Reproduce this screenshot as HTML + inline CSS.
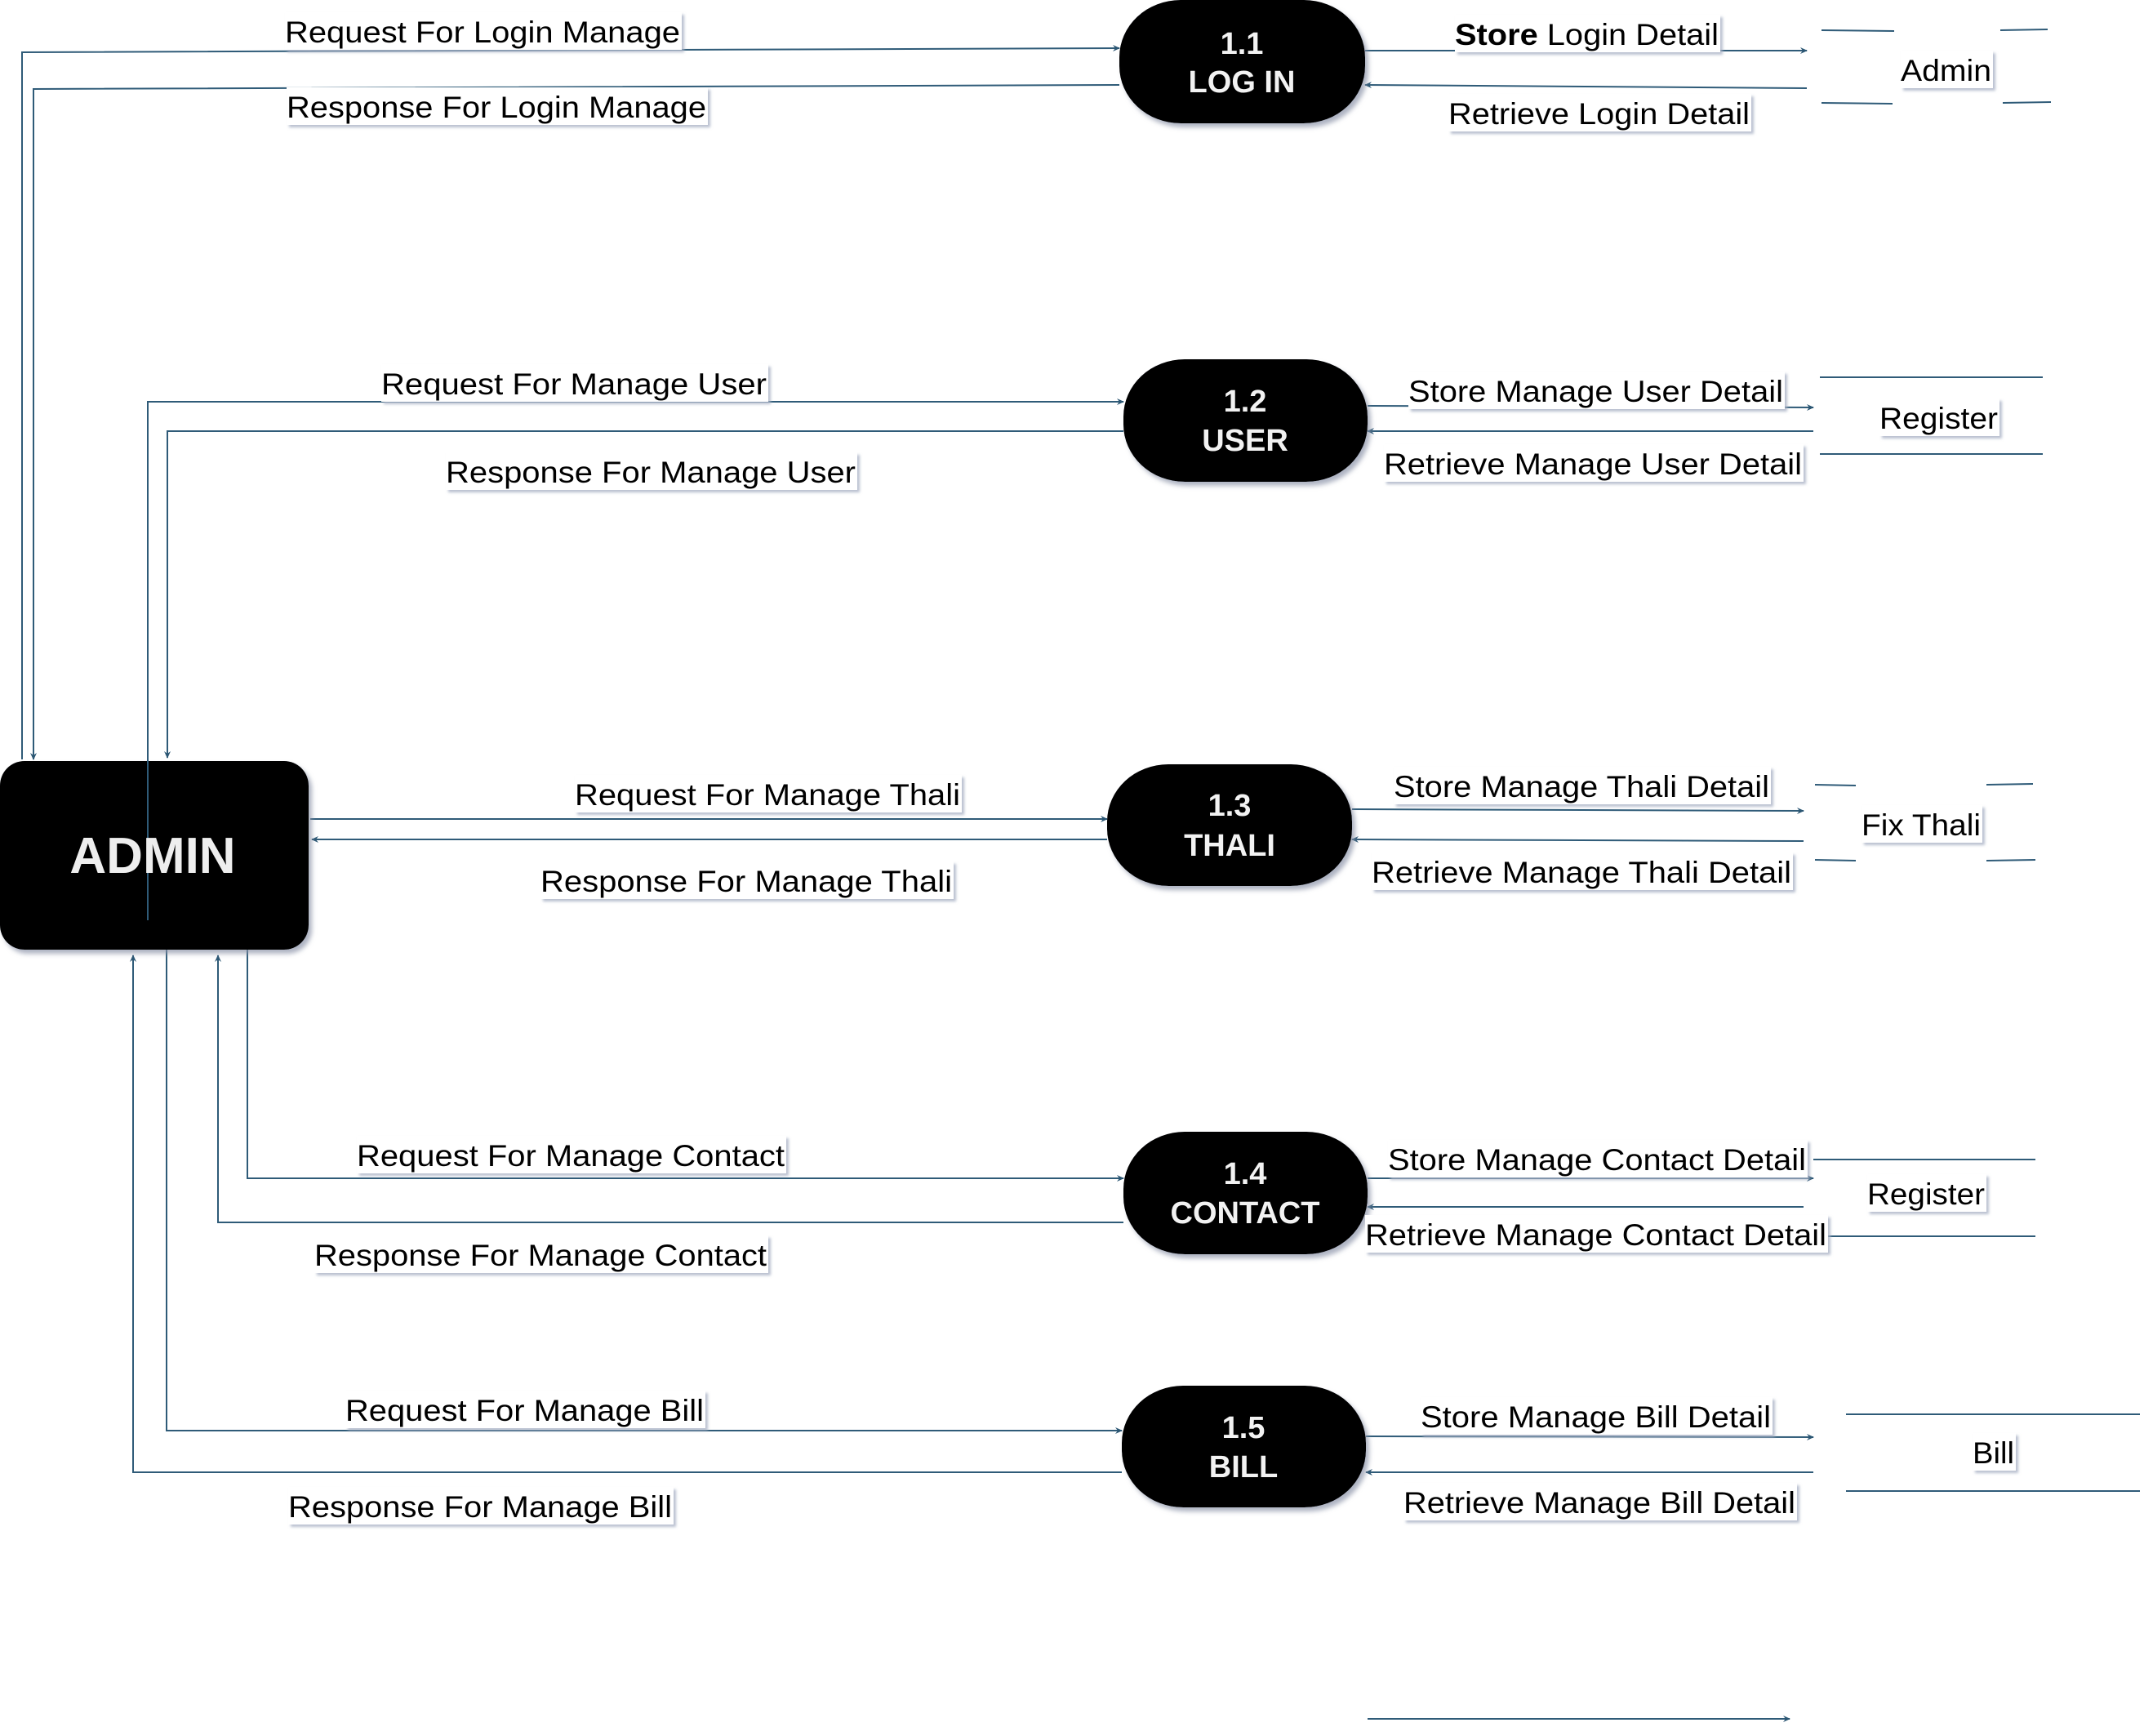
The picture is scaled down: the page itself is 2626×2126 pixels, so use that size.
<!DOCTYPE html>
<html><head><meta charset="utf-8"><style>
html,body{margin:0;padding:0;background:#fff;}
svg{display:block;}
text{font-family:"Liberation Sans",sans-serif;}
</style></head><body>
<svg width="2626" height="2126" viewBox="0 0 2626 2126" xmlns="http://www.w3.org/2000/svg">
<defs>
<marker id="a" markerWidth="10" markerHeight="10" refX="8" refY="5" orient="auto" markerUnits="userSpaceOnUse">
<path d="M0,1 L9,5 L0,9 L3,5 Z" fill="#2b5673"/></marker>
<filter id="sh" x="-10%" y="-10%" width="130%" height="140%"><feDropShadow dx="4" dy="5" stdDeviation="3" flood-color="#8a93a8" flood-opacity="0.7"/></filter>
<filter id="ls" x="-5%" y="-20%" width="110%" height="160%"><feDropShadow dx="3" dy="3" stdDeviation="1.5" flood-color="#a8b0c4" flood-opacity="0.8"/></filter>
</defs>
<g fill="none" stroke="#2f5b78" stroke-width="2">
<!-- left connectors -->
<polyline points="27,930 27,64 1371,59" marker-end="url(#a)"/>
<polyline points="1371,104 41,109 41,930" marker-end="url(#a)"/>
<polyline points="181,1127 181,492 1376,492" marker-end="url(#a)"/>
<polyline points="1376,528 205,528 205,928" marker-end="url(#a)"/>
<line x1="380" y1="1003" x2="1356" y2="1003" marker-end="url(#a)"/>
<line x1="1356" y1="1028" x2="382" y2="1028" marker-end="url(#a)"/>
<polyline points="303,1163 303,1443 1376,1443" marker-end="url(#a)"/>
<polyline points="1376,1497 267,1497 267,1170" marker-end="url(#a)"/>
<polyline points="204,1163 204,1752 1374,1752" marker-end="url(#a)"/>
<polyline points="1374,1803 163,1803 163,1170" marker-end="url(#a)"/>
<!-- right connectors -->
<line x1="1672" y1="62" x2="2213" y2="62" marker-end="url(#a)"/>
<line x1="2213" y1="108" x2="1672" y2="104" marker-end="url(#a)"/>
<line x1="1675" y1="497" x2="2221" y2="499" marker-end="url(#a)"/>
<line x1="2221" y1="528" x2="1675" y2="528" marker-end="url(#a)"/>
<line x1="1656" y1="991" x2="2209" y2="993" marker-end="url(#a)"/>
<line x1="2209" y1="1030" x2="1656" y2="1028" marker-end="url(#a)"/>
<line x1="1675" y1="1443" x2="2221" y2="1443" marker-end="url(#a)"/>
<line x1="2209" y1="1478" x2="1675" y2="1478" marker-end="url(#a)"/>
<line x1="1673" y1="1759" x2="2221" y2="1760" marker-end="url(#a)"/>
<line x1="2221" y1="1803" x2="1673" y2="1803" marker-end="url(#a)"/>
<line x1="1675" y1="2105" x2="2192" y2="2105" marker-end="url(#a)"/>
<!-- data stores -->
<line x1="2231" y1="37" x2="2320" y2="38"/><line x1="2450" y1="37" x2="2508" y2="36"/>
<line x1="2231" y1="126" x2="2318" y2="127"/><line x1="2453" y1="126" x2="2512" y2="125"/>
<line x1="2229" y1="462" x2="2502" y2="462"/><line x1="2229" y1="556" x2="2502" y2="556"/>
<line x1="2223" y1="961" x2="2273" y2="962"/><line x1="2433" y1="961" x2="2490" y2="960"/>
<line x1="2223" y1="1053" x2="2273" y2="1054"/><line x1="2433" y1="1054" x2="2493" y2="1053"/>
<line x1="2221" y1="1420" x2="2493" y2="1420"/><line x1="2221" y1="1514" x2="2493" y2="1514"/>
<line x1="2261" y1="1732" x2="2621" y2="1732"/><line x1="2261" y1="1826" x2="2621" y2="1826"/>
</g>
<!-- ADMIN -->
<rect x="0" y="932" width="378" height="231" rx="30" fill="#000" filter="url(#sh)"/>
<line x1="181" y1="932" x2="181" y2="1127" stroke="#2f5b78" stroke-width="2"/>
<text x="187" y="1069" font-size="62" font-weight="bold" fill="#eee" text-anchor="middle">ADMIN</text>
<!-- processes -->
<g fill="#000" filter="url(#sh)">
<rect x="1371" y="0" width="301" height="151" rx="75" ry="70"/>
<rect x="1376" y="440" width="299" height="150" rx="75" ry="70"/>
<rect x="1356" y="936" width="300" height="149" rx="75" ry="70"/>
<rect x="1376" y="1386" width="299" height="150" rx="75" ry="70"/>
<rect x="1374" y="1697" width="299" height="149" rx="75" ry="70"/>
</g>
<g fill="#f2f2f2" font-size="38" font-weight="bold" text-anchor="middle">
<text x="1521" y="66">1.1</text><text x="1521" y="113">LOG IN</text>
<text x="1525" y="504">1.2</text><text x="1525" y="552">USER</text>
<text x="1506" y="999">1.3</text><text x="1506" y="1048">THALI</text>
<text x="1525" y="1450">1.4</text><text x="1525" y="1498">CONTACT</text>
<text x="1523" y="1761">1.5</text><text x="1523" y="1809">BILL</text>
</g>
<!-- labels -->
<g fill="#fff" filter="url(#ls)">
<rect x="349" y="15" width="486" height="46"/>
<rect x="351" y="107" width="516" height="46"/>
<rect x="1782" y="18" width="325" height="46"/>
<rect x="1774" y="115" width="371" height="46"/>
<rect x="467" y="446" width="474" height="46"/>
<rect x="546" y="554" width="504" height="46"/>
<rect x="1725" y="455" width="461" height="46"/>
<rect x="1695" y="544" width="514" height="46"/>
<rect x="704" y="949" width="474" height="46"/>
<rect x="662" y="1055" width="506" height="46"/>
<rect x="1707" y="939" width="462" height="46"/>
<rect x="1680" y="1044" width="516" height="46"/>
<rect x="437" y="1391" width="526" height="46"/>
<rect x="385" y="1513" width="556" height="46"/>
<rect x="1700" y="1396" width="514" height="46"/>
<rect x="1672" y="1488" width="567" height="46"/>
<rect x="423" y="1703" width="441" height="46"/>
<rect x="353" y="1821" width="472" height="46"/>
<rect x="1740" y="1711" width="431" height="46"/>
<rect x="1719" y="1816" width="482" height="46"/>
<rect x="2328" y="62" width="113" height="46"/>
<rect x="2302" y="488" width="147" height="46"/>
<rect x="2280" y="986" width="148" height="46"/>
<rect x="2287" y="1438" width="146" height="46"/>
<rect x="2416" y="1755" width="53" height="46"/>
</g>
<g fill="#000" font-size="37" lengthAdjust="spacingAndGlyphs">
<text x="349" y="52" textLength="484" lengthAdjust="spacingAndGlyphs">Request For Login Manage</text>
<text x="351" y="144" textLength="514" lengthAdjust="spacingAndGlyphs">Response For Login Manage</text>
<text x="1782" y="55" textLength="323" lengthAdjust="spacingAndGlyphs"><tspan font-weight="bold">Store</tspan> Login Detail</text>
<text x="1774" y="152" textLength="369" lengthAdjust="spacingAndGlyphs">Retrieve Login Detail</text>
<text x="467" y="483" textLength="472" lengthAdjust="spacingAndGlyphs">Request For Manage User</text>
<text x="546" y="591" textLength="502" lengthAdjust="spacingAndGlyphs">Response For Manage User</text>
<text x="1725" y="492" textLength="459" lengthAdjust="spacingAndGlyphs">Store Manage User Detail</text>
<text x="1695" y="581" textLength="512" lengthAdjust="spacingAndGlyphs">Retrieve Manage User Detail</text>
<text x="704" y="986" textLength="472" lengthAdjust="spacingAndGlyphs">Request For Manage Thali</text>
<text x="662" y="1092" textLength="504" lengthAdjust="spacingAndGlyphs">Response For Manage Thali</text>
<text x="1707" y="976" textLength="460" lengthAdjust="spacingAndGlyphs">Store Manage Thali Detail</text>
<text x="1680" y="1081" textLength="514" lengthAdjust="spacingAndGlyphs">Retrieve Manage Thali Detail</text>
<text x="437" y="1428" textLength="524" lengthAdjust="spacingAndGlyphs">Request For Manage Contact</text>
<text x="385" y="1550" textLength="554" lengthAdjust="spacingAndGlyphs">Response For Manage Contact</text>
<text x="1700" y="1433" textLength="512" lengthAdjust="spacingAndGlyphs">Store Manage Contact Detail</text>
<text x="1672" y="1525" textLength="565" lengthAdjust="spacingAndGlyphs">Retrieve Manage Contact Detail</text>
<text x="423" y="1740" textLength="439" lengthAdjust="spacingAndGlyphs">Request For Manage Bill</text>
<text x="353" y="1858" textLength="470" lengthAdjust="spacingAndGlyphs">Response For Manage Bill</text>
<text x="1740" y="1748" textLength="429" lengthAdjust="spacingAndGlyphs">Store Manage Bill Detail</text>
<text x="1719" y="1853" textLength="480" lengthAdjust="spacingAndGlyphs">Retrieve Manage Bill Detail</text>
<text x="2328" y="99" textLength="111" lengthAdjust="spacingAndGlyphs">Admin</text>
<text x="2302" y="525" textLength="145" lengthAdjust="spacingAndGlyphs">Register</text>
<text x="2280" y="1023" textLength="146" lengthAdjust="spacingAndGlyphs">Fix Thali</text>
<text x="2287" y="1475" textLength="144" lengthAdjust="spacingAndGlyphs">Register</text>
<text x="2416" y="1792" textLength="51" lengthAdjust="spacingAndGlyphs">Bill</text>
</g>
</svg>
</body></html>
